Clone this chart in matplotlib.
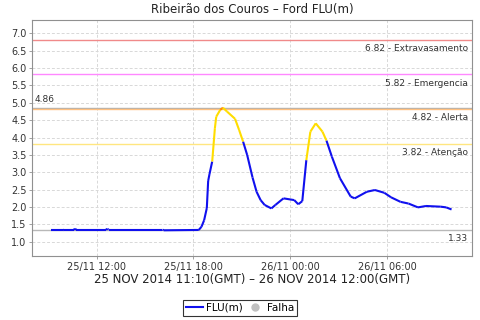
import matplotlib
matplotlib.use("Agg")
import matplotlib.pyplot as plt
import matplotlib.dates as mdates
from matplotlib.collections import LineCollection
from matplotlib.lines import Line2D
from datetime import datetime

# leituras do nível (FLU em m)
horas = [
    "25/11 09:10", "25/11 09:55", "25/11 10:00", "25/11 10:35", "25/11 10:40", "25/11 10:45",
    "25/11 12:35", "25/11 12:40", "25/11 12:45", "25/11 16:05", "25/11 16:10", "25/11 18:20",
    "25/11 18:30", "25/11 18:40", "25/11 18:50", "25/11 18:55", "25/11 19:00", "25/11 19:10",
    "25/11 19:20", "25/11 19:25", "25/11 19:40", "25/11 19:50", "25/11 20:05", "25/11 20:35",
    "25/11 20:50", "25/11 21:05", "25/11 21:20", "25/11 21:40", "25/11 21:55", "25/11 22:10",
    "25/11 22:25", "25/11 22:50", "25/11 23:05", "25/11 23:35", "26/11 00:15", "26/11 00:30",
    "26/11 00:45", "26/11 01:00", "26/11 01:15", "26/11 01:35", "26/11 02:00", "26/11 02:15",
    "26/11 02:35", "26/11 03:05", "26/11 03:45", "26/11 04:00", "26/11 04:45", "26/11 05:15",
    "26/11 05:50", "26/11 06:15", "26/11 06:50", "26/11 07:20", "26/11 07:55", "26/11 08:25",
    "26/11 09:20", "26/11 09:40", "26/11 10:00",
]
flu = [
    1.33, 1.33, 1.35, 1.35, 1.37, 1.35,
    1.35, 1.37, 1.35, 1.35, 1.33, 1.34,
    1.43, 1.62, 1.97, 2.75, 2.95, 3.31,
    4.27, 4.60, 4.80, 4.86, 4.75, 4.54,
    4.22, 3.88, 3.50, 2.85, 2.44, 2.20,
    2.06, 1.96, 2.06, 2.25, 2.20, 2.08,
    2.17, 3.35, 4.17, 4.41, 4.17, 3.91,
    3.45, 2.83, 2.30, 2.25, 2.44, 2.49,
    2.41, 2.28, 2.15, 2.10, 1.99, 2.03,
    2.01, 1.99, 1.93,
]

# cotas de referência
cotas = [6.82, 5.82, 4.86, 4.82, 3.82, 1.33]
cotas_rotulo = ["6.82 - Extravasamento", "5.82 - Emergencia", "4.86", "4.82 - Alerta",
                "3.82 - Atenção", "1.33"]
cotas_cor = ["#f08a8a", "#ff88ff", "#b0b0b0", "#ffc080", "#ffe680", "#b8b8b8"]

tempos = [mdates.date2num(datetime.strptime("2014/" + h, "%Y/%d/%m %H:%M")) for h in horas]

fig = plt.figure(figsize=(4.8, 3.2), dpi=100)
ax = fig.add_axes([32 / 480, 64 / 320, 440 / 480, 236.5 / 320])

ax.set_xlim(mdates.date2num(datetime(2014, 11, 25, 8, 0)),
            mdates.date2num(datetime(2014, 11, 26, 11, 16)))
ax.set_ylim(0.59, 7.4)

ax.grid(True, linestyle=(0, (3, 2)), color="#d8d8d8", linewidth=0.7)
ax.set_axisbelow(True)
for s in ax.spines.values():
    s.set_color("#909090")

for v, rot, cor in zip(cotas, cotas_rotulo, cotas_cor):
    ax.axhline(v, color=cor, linewidth=1.0, zorder=1)
    if rot == "4.86":
        ax.annotate(rot, xy=(0, v), xycoords=("axes fraction", "data"),
                    xytext=(2, 3), textcoords="offset points", fontsize=6.5,
                    color="#333333", va="bottom", ha="left")
    else:
        ax.annotate(rot, xy=(1, v), xycoords=("axes fraction", "data"),
                    xytext=(-3, -3), textcoords="offset points", fontsize=6.5,
                    color="#333333", va="top", ha="right")

# cor do segmento pelo valor final
segs, cores = [], []
for i in range(1, len(flu)):
    segs.append([(tempos[i - 1], flu[i - 1]), (tempos[i], flu[i])])
    if flu[i] > 4.82:
        cores.append("#ff8c00")
    elif flu[i] > 3.82:
        cores.append("#ffdd00")
    else:
        cores.append("#1010ee")
ax.add_collection(LineCollection(segs, colors=cores, linewidths=1.5, zorder=3))

ax.xaxis.set_major_locator(mdates.HourLocator(byhour=[0, 6, 12, 18]))
ax.xaxis.set_major_formatter(mdates.DateFormatter("%d/%m %H:%M"))
ax.set_yticks([1.0, 1.5, 2.0, 2.5, 3.0, 3.5, 4.0, 4.5, 5.0, 5.5, 6.0, 6.5, 7.0])
ax.yaxis.set_major_formatter(plt.FormatStrFormatter("%.1f"))
ax.tick_params(labelsize=7, colors="#333333", length=2, width=0.6, pad=2)
ax.tick_params(axis="both", color="#909090")

ax.set_title("Ribeirão dos Couros – Ford FLU(m)", fontsize=8.5, color="#222222", pad=5)
ax.set_xlabel("25 NOV 2014 11:10(GMT) – 26 NOV 2014 12:00(GMT)", fontsize=8.5,
              color="#222222", labelpad=1)

handles = [Line2D([0], [0], color="#1010ee", linewidth=1.5),
           Line2D([0], [0], marker="o", linestyle="none", color="#c0c0c0", markersize=5)]
leg = fig.legend(handles, ["FLU(m)", "Falha"], loc="center",
                 bbox_to_anchor=(0.5, 1 - 308 / 320), ncol=2, fontsize=7.5,
                 frameon=True, fancybox=False, handlelength=1.6, handletextpad=0.3,
                 columnspacing=0.4, borderpad=0.3)
leg.get_frame().set_edgecolor("black")
leg.get_frame().set_linewidth(0.8)

fig.savefig("out.png", dpi=100)
